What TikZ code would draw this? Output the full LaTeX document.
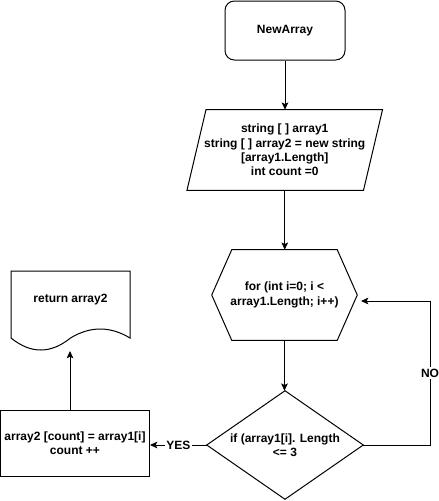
\documentclass[tikz,border=0pt]{standalone}
\usepackage{fontspec}
\setmainfont{Liberation Sans}
\usetikzlibrary{arrows.meta,calc}
\begin{document}
\begin{tikzpicture}[x=0.75pt,y=-0.75pt,
  txt/.style={font=\fontsize{9}{10.8}\selectfont\bfseries, align=center, inner sep=0pt},
  shapebox/.style={inner sep=0pt},
  line/.style={line width=0.75pt},
  arr/.style={line width=0.75pt, -{Stealth[length=5.5pt,width=5pt,inset=1.2pt]}},
  lbl/.style={font=\fontsize{9}{10.8}\selectfont\bfseries, fill=white, inner sep=1pt}]
\useasboundingbox (0,0) rectangle (439,501);

% start
\node[shapebox, draw, line, rounded corners=7pt, minimum width=90pt, minimum height=44.25pt, txt] (start) at (285,30.5) {NewArray};

% parallelogram
\node[shapebox, txt, minimum width=146.25pt, minimum height=60pt] (para) at (284.75,150) {string [ ] array1\\string [ ] array2 = new string\\{[}array1.Length{]}\\int count =0};
\draw[line] ($(para.north west)+(19,0)$) -- (para.north east) -- ($(para.south east)+(-19,0)$) -- (para.south west) -- cycle;

% hexagon
\node[shapebox, txt, minimum width=108.75pt, minimum height=67.5pt] (hex) at (284.5,295) {for (int i=0; i <\\array1.Length; i++)};
\draw[line] (hex.west) -- ($(hex.north west)+(20,0)$) -- ($(hex.north east)+(-20,0)$) -- (hex.east) -- ($(hex.south east)+(-20,0)$) -- ($(hex.south west)+(20,0)$) -- cycle;

% diamond
\node[shapebox, txt, minimum width=117pt, minimum height=81pt] (dia) at (285,445) {if (array1[i]. Length\\<= 3};
\draw[line] (dia.west) -- (dia.north) -- (dia.east) -- (dia.south) -- cycle;

% action box
\node[shapebox, draw, line, txt, minimum width=111.75pt, minimum height=49.5pt] (act) at (75,443) {array2 [count] = array1[i]\\count ++};

% document
\draw[line] (11,338) -- (11,271) -- (130,271) -- (130,338)
  .. controls (110.17,326) and (90.33,326) .. (70.5,338)
  .. controls (50.67,354) and (30.83,354) .. (11,338) -- cycle;
\node[txt] (doc) at (70.5,300) {return array2};
\coordinate (docb) at (70,351);

% connectors
\coordinate (loop) at (430,301);
\coordinate (noin) at (361,301);
\draw[arr] (start.south) -- (start.south |- para.north);
\draw[arr] (para.south) -- (para.south |- hex.north);
\draw[arr] (hex.south) -- (hex.south |- dia.north);
\draw[arr] (dia.west) -- node[lbl]{YES} (dia.west -| act.east);
\draw[arr] (act.north -| docb) -- (docb);
\draw[arr] (dia.east) -| node[lbl, pos=0.75]{NO} (loop) -- (noin);
\end{tikzpicture}
\end{document}
